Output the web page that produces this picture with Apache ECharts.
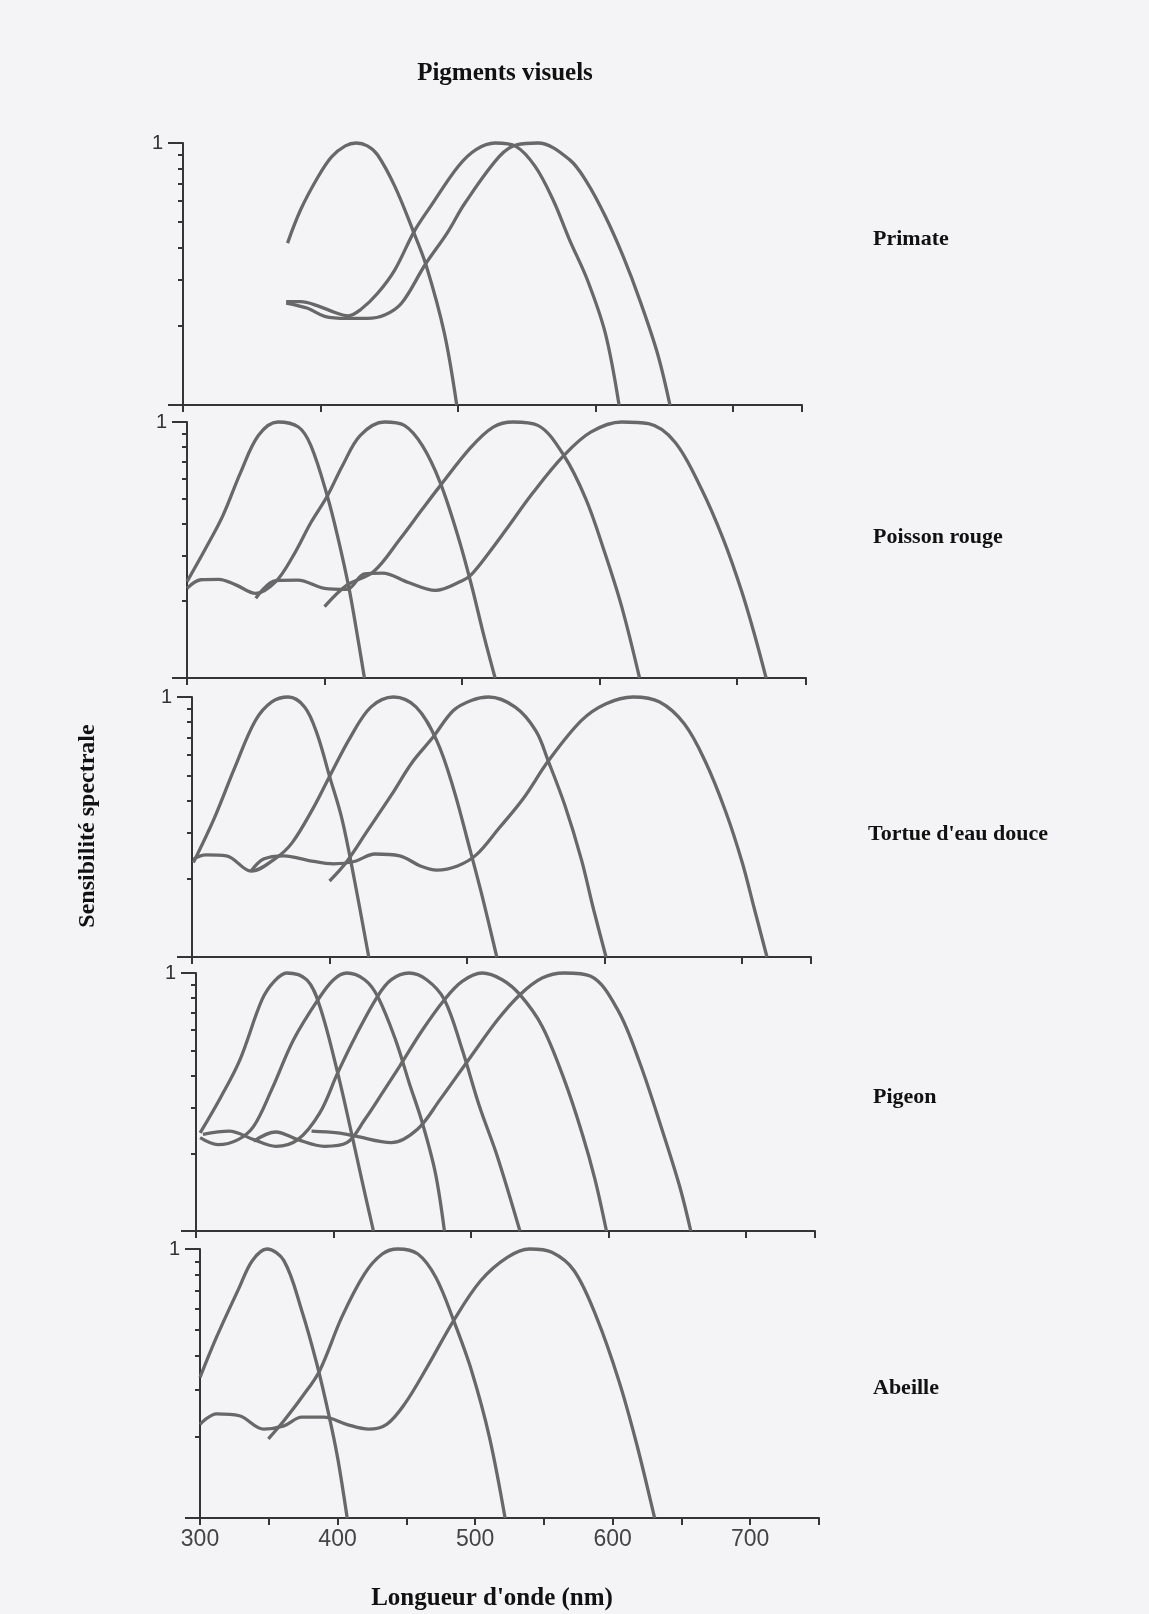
<!DOCTYPE html>
<html><head><meta charset="utf-8">
<script src="https://cdn.jsdelivr.net/npm/echarts@6/dist/echarts.min.js"></script>
<style>html,body{margin:0;padding:0;background:#f4f4f6}#c{width:1149px;height:1614px}</style>
</head><body><div id="c"></div>
<script>
// ---- data: [wavelength nm, relative sensitivity] ----
const xTickLabels = [300, 400, 500, 600, 700];
const panelNames = ['Primate', 'Poisson rouge', "Tortue d'eau douce", 'Pigeon', 'Abeille'];

const primateS = [[376,0.415],[385.5,0.556],[398,0.74],[408,0.885],[418,0.975],[426,1.0],[434,0.975],[441.5,0.90],[454,0.683],[467,0.466],[477,0.338],[490,0.188],[499,0.10]];
const primateM = [[375,0.248],[385.5,0.248],[398,0.239],[411,0.225],[420,0.219],[429,0.231],[441.5,0.267],[454,0.328],[468,0.459],[480,0.573],[500,0.814],[513,0.944],[527,1.0],[542,0.971],[556,0.814],[569,0.607],[581,0.427],[594,0.30],[607,0.188],[617,0.10]];
const primateL = [[375,0.245],[390.6,0.234],[403,0.218],[419,0.214],[434,0.214],[447,0.221],[459,0.245],[476,0.343],[492,0.453],[505,0.59],[530,0.889],[543,0.986],[558,1.0],[581,0.864],[594,0.703],[607,0.525],[620,0.369],[632,0.252],[645,0.157],[654,0.10]];

const fishUV = [[300,0.238],[313,0.317],[326,0.43],[339,0.636],[352,0.887],[366,1.0],[381,0.956],[390,0.81],[402,0.514],[410,0.348],[418,0.221],[424,0.145],[429,0.10]];
const fishS = [[300,0.224],[310,0.242],[323,0.243],[335.5,0.231],[350,0.214],[364.5,0.238],[377,0.299],[390,0.404],[402,0.514],[413,0.675],[426,0.887],[443.5,1.0],[458,0.97],[471,0.81],[484,0.581],[497,0.358],[506.5,0.234],[516,0.145],[524,0.10]];
const fishM = [[400,0.19],[416,0.23],[435.5,0.26],[455,0.35],[471,0.456],[484,0.563],[506.5,0.797],[522.6,0.955],[537,1.0],[555,0.97],[574,0.74],[590,0.5],[603,0.317],[616,0.19],[629,0.10]];
const fishL = [[350,0.205],[364.5,0.24],[380.6,0.241],[400,0.224],[416,0.222],[429,0.255],[442,0.257],[461,0.236],[480.6,0.22],[500,0.24],[506.5,0.253],[519.4,0.308],[532,0.38],[551.6,0.53],[574,0.74],[593.5,0.913],[616,1.0],[635.5,0.985],[654.8,0.834],[674,0.547],[690,0.347],[703,0.22],[713,0.145],[721,0.10]];

const turtleUV = [[301,0.231],[316,0.34],[331,0.534],[346,0.81],[358,0.957],[370,1.0],[382,0.914],[391,0.72],[400,0.495],[409,0.34],[418,0.199],[428.5,0.10]];
const turtleS = [[301,0.238],[310,0.247],[325,0.245],[343,0.214],[361,0.24],[373,0.276],[388,0.373],[400,0.495],[415,0.698],[430,0.914],[446.5,1.0],[463,0.914],[478,0.678],[490,0.446],[502,0.26],[511,0.171],[521.6,0.10]];
const turtleM = [[400,0.196],[412,0.231],[427,0.303],[445,0.42],[460,0.56],[475,0.698],[490,0.887],[503,0.97],[515.6,1.0],[535,0.914],[550,0.741],[559,0.567],[571,0.384],[583,0.238],[592,0.152],[601,0.10]];
const turtleL = [[343,0.214],[352,0.238],[367,0.245],[385,0.235],[403,0.228],[418,0.233],[433,0.249],[451,0.245],[466,0.224],[478,0.216],[493,0.224],[506.6,0.247],[523,0.312],[541,0.408],[559,0.567],[583,0.811],[601,0.942],[620.7,1.0],[640,0.956],[658,0.787],[673,0.567],[688,0.362],[700,0.231],[709,0.152],[718,0.10]];

const pigeon1 = [[303,0.24],[318,0.33],[332,0.462],[348,0.788],[357,0.93],[366,1.0],[380.6,0.94],[390,0.743],[403,0.41],[413,0.24],[421,0.154],[429,0.10]];
const pigeon2 = [[303,0.23],[316,0.216],[330.6,0.226],[342,0.255],[355,0.353],[371,0.552],[388.7,0.788],[400,0.942],[409.7,1.0],[422.6,0.942],[432,0.812],[445,0.552],[455,0.375],[464.5,0.263],[474,0.168],[480.6,0.10]];
const pigeon3 = [[305,0.237],[324,0.244],[342,0.226],[358,0.213],[374,0.226],[390,0.287],[403,0.41],[416,0.569],[432,0.812],[442,0.942],[454.8,1.0],[467.7,0.942],[480.6,0.788],[493.5,0.505],[506,0.305],[519,0.195],[535.5,0.10]];
const pigeon4 = [[342,0.223],[358,0.242],[374,0.226],[393.5,0.213],[409.7,0.22],[422.6,0.27],[435.5,0.343],[448,0.435],[464.5,0.6],[480.6,0.788],[493.5,0.928],[508,1.0],[522.6,0.942],[535.5,0.824],[551.6,0.622],[567.7,0.386],[580.6,0.24],[590,0.159],[598.4,0.10]];
const pigeon5 = [[384,0.244],[403,0.24],[416,0.233],[442,0.22],[461,0.248],[477.4,0.323],[500,0.476],[519.4,0.66],[535.5,0.824],[551.6,0.956],[567.7,1.0],[587,0.971],[606.5,0.721],[622.6,0.449],[638.7,0.248],[651.6,0.149],[659.7,0.10]];

const beeUV = [[300,0.333],[312,0.47],[328.6,0.72],[338,0.905],[348.7,1.0],[361,0.905],[374,0.59],[385,0.373],[393.5,0.244],[400,0.168],[407,0.10]];
const beeBlue = [[349.7,0.197],[361,0.23],[374,0.281],[387,0.353],[403,0.557],[419.5,0.807],[432.5,0.958],[443.8,1.0],[458.4,0.958],[471.4,0.785],[484.4,0.542],[497.4,0.353],[510.4,0.2],[521.8,0.10]];
const beeGreen = [[300,0.223],[312,0.244],[328.6,0.24],[346.4,0.214],[361,0.22],[374,0.237],[390,0.237],[406.5,0.223],[422.7,0.214],[435.7,0.223],[448.7,0.265],[465,0.363],[484.4,0.542],[504,0.762],[523.4,0.931],[539.6,1.0],[555.8,0.972],[572,0.83],[588.3,0.557],[604.5,0.324],[617.5,0.188],[630.5,0.10]];

const panelCurves = [
  [primateS, primateM, primateL],
  [fishUV, fishS, fishM, fishL],
  [turtleUV, turtleS, turtleM, turtleL],
  [pigeon1, pigeon2, pigeon3, pigeon4, pigeon5],
  [beeUV, beeBlue, beeGreen]
];

// ---- layout ----
const boxes = [[183,143,262],[187,422,256],[192,697,260],[196,973,258],[200,1249,269]];
const labelPos = [[873,239],[873,537],[868,834],[873,1097],[873,1388]];
const AX = '#353535', CURVE = '#686868';
const serif = '"Liberation Serif", "DejaVu Serif", serif';
const sans = '"Liberation Sans", Arial, sans-serif';

const grid = [], xAxis = [], yAxis = [], series = [], graphic = [];
boxes.forEach((b, i) => {
  const last = i === boxes.length - 1;
  grid.push({left: b[0], top: b[1], width: 619, height: b[2]});
  xAxis.push({
    gridIndex: i, type: 'value', min: 300, max: 750, interval: last ? 50 : 100,
    axisLine: {onZero: false, lineStyle: {color: AX, width: 2}},
    axisTick: {length: 7, lineStyle: {color: AX, width: 2}},
    splitLine: {show: false},
    axisLabel: {show: last, margin: 10, color: '#444', fontFamily: sans, fontSize: 23,
      hideOverlap: false,
      formatter: v => xTickLabels.indexOf(v) >= 0 ? String(v) : ''}
  });
  yAxis.push({
    gridIndex: i, type: 'log', logBase: 10, min: 0.1, max: 1, position: 'left', offset: 0,
    axisLine: {show: true, onZero: false, lineStyle: {color: AX, width: 2}},
    axisTick: {show: true, length: 5, customValues: [0.2,0.3,0.4,0.5,0.6,0.7,0.8,0.9], lineStyle: {color: AX, width: 2}},
    axisLabel: {show: false}, splitLine: {show: false}
  });
  yAxis.push({
    gridIndex: i, type: 'log', logBase: 10, min: 0.1, max: 1, position: 'left', offset: 0,
    axisLine: {show: false, onZero: false},
    axisTick: {show: true, length: 15, customValues: [0.1, 1], lineStyle: {color: AX, width: 2}},
    axisLabel: {show: true, margin: 20, color: '#333', fontFamily: sans, fontSize: 20,
      customValues: [1], formatter: v => (Math.abs(v - 1) < 1e-9 ? '1' : '')},
    splitLine: {show: false}
  });
  panelCurves[i].forEach(c => series.push({
    type: 'line', xAxisIndex: i, yAxisIndex: 2 * i, data: c, smooth: 0.35,
    showSymbol: false, clip: false, silent: true,
    lineStyle: {color: CURVE, width: 3.3}
  }));
  graphic.push({type: 'text', x: labelPos[i][0], y: labelPos[i][1],
    style: {text: panelNames[i], font: 'bold 22px ' + serif, fill: '#111', textAlign: 'left', textVerticalAlign: 'middle'}});
});
graphic.push({type: 'text', x: 505, y: 74,
  style: {text: 'Pigments visuels', font: 'bold 25px ' + serif, fill: '#111', textAlign: 'center', textVerticalAlign: 'middle'}});
graphic.push({type: 'text', x: 492, y: 1599,
  style: {text: "Longueur d'onde (nm)", font: 'bold 25px ' + serif, fill: '#111', textAlign: 'center', textVerticalAlign: 'middle'}});
graphic.push({type: 'text', x: 88, y: 826, rotation: Math.PI / 2,
  style: {text: 'Sensibilité spectrale', font: 'bold 24px ' + serif, fill: '#111', textAlign: 'center', textVerticalAlign: 'middle'}});

const chart = echarts.init(document.getElementById('c'), null, {renderer: 'canvas'});
chart.setOption({backgroundColor: '#f4f4f6', animation: false, grid, xAxis, yAxis, series, graphic});
</script></body></html>
